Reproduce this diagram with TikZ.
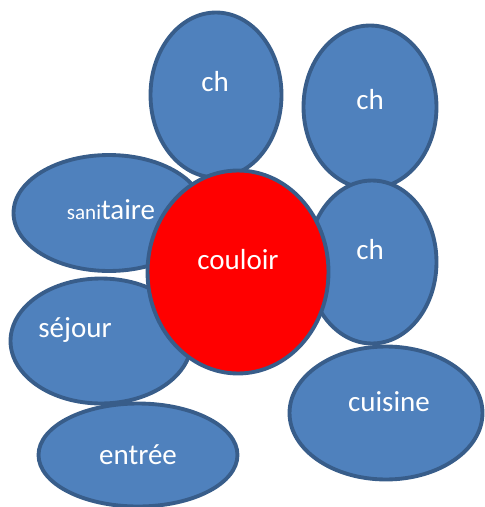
\documentclass[tikz,border=0pt]{standalone}
\usepackage{fontspec}
\setmainfont{Carlito}
\usepackage{xcolor}
\usepackage{tikz}
\usetikzlibrary{shapes.geometric}
\definecolor{roomblue}{HTML}{4F81BD}
\definecolor{roomedge}{HTML}{385D8A}
\tikzset{
room/.style={shape=ellipse,draw=roomedge,fill=roomblue,line width=2.2pt,inner sep=0pt,outer sep=0pt},
roomtext/.style={text=white,font=\fontsize{16.5}{19}\selectfont,inner sep=0pt}
}

\begin{document}
\begin{tikzpicture}[x=0.02cm,y=-0.02cm]
\useasboundingbox (0,0) rectangle (484,507);
\node[room,minimum width=3.82cm,minimum height=2.32cm](sanitaire)at(109,213){};
\node[room,minimum width=3.62cm,minimum height=2.5cm](sejour)at(101,341){};
\node[room,minimum width=2.62cm,minimum height=3.3cm](chA)at(216,95){};
\node[room,minimum width=2.66cm,minimum height=3.26cm](chB)at(370,107){};
\node[room,minimum width=2.58cm,minimum height=3.26cm](chC)at(372,262){};
\node[room,minimum width=3.86cm,minimum height=2.66cm](cuisine)at(386,413){};
\node[room,minimum width=3.98cm,minimum height=2.06cm](entree)at(138,455){};
\node[room,fill=red,minimum width=3.62cm,minimum height=4.06cm](couloir)at(238,272){};
% labels
\node[roomtext](chAtext)at(215,82){ch};
\node[roomtext](chBtext)at(370,100){ch};
\node[roomtext](chCtext)at(370,250){ch};
\node[roomtext](sanitairetext)at(111,210){{\fontsize{12}{14}\selectfont sani}taire};
\node[roomtext](couloirtext)at(238,260){couloir};
\node[roomtext](sejourtext)at(75,330){séjour};
\node[roomtext](cuisinetext)at(389,402){cuisine};
\node[roomtext](entreetext)at(138,455){entrée};
\end{tikzpicture}
\end{document}
